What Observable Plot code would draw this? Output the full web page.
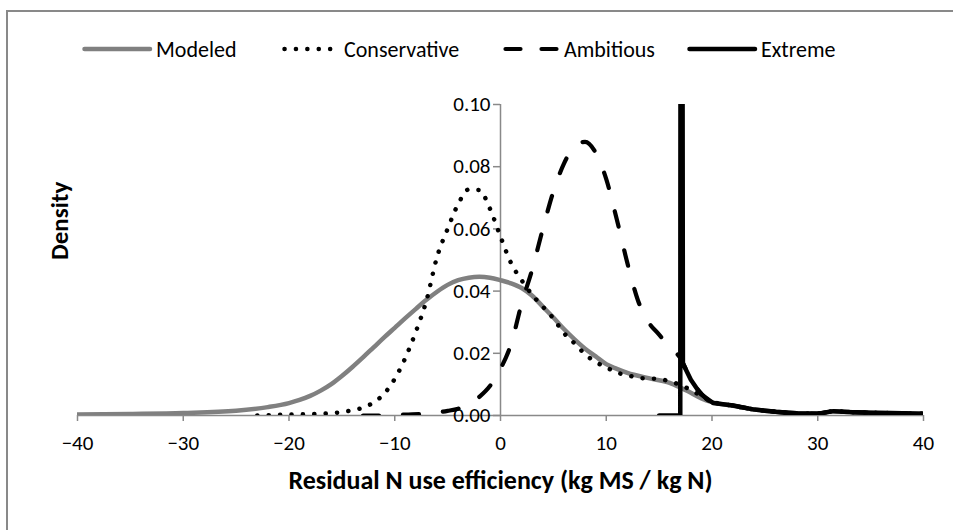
<!DOCTYPE html>
<html>
<head>
<meta charset="utf-8">
<script src="https://cdn.jsdelivr.net/npm/d3@7"></script>
<script src="https://cdn.jsdelivr.net/npm/@observablehq/plot@0.6"></script>
<style>
  html, body { margin: 0; padding: 0; background: #fff; }
  #wrap { position: relative; width: 953px; height: 530px; overflow: hidden; font-family: Carlito, Calibri, Lato, sans-serif; }
  #frame { position: absolute; left: 6px; top: 10px; width: 1000px; height: 600px; border-left: 2px solid #898989; border-top: 2px solid #898989; box-sizing: border-box; pointer-events: none; }
  #legend { position: relative; height: 70px; }
  .item { position: absolute; top: 37px; height: 24px; display: flex; align-items: center; font-size: 22px; color: #000; white-space: nowrap; }
  .item svg { margin-right: 2px; }
  #chart { position: absolute; left: 0; top: 70px; }
</style>
</head>
<body>
<div id="wrap">
  <div id="legend"></div>
  <div id="chart"></div>
  <div id="frame"></div>
</div>
<script>
// ---- data ----
const seriesNames = ["Modeled", "Conservative", "Ambitious", "Extreme"];

const modeledX = [-40,-35,-30,-25,-22,-20,-19,-18,-17,-16,-15,-14,-13,-12,-11,-10,-9,-8,-7,-6,-5,-4,-3,-2,-1,0,1,2,3,4,5,6,7,8,9,10,11,12,14,16,17,18,19,20,22,24,26,28,30,31.5,33,35,38,40];
const modeledY = [0.0003,0.0005,0.0008,0.0015,0.0027,0.004,0.005,0.0063,0.008,0.0101,0.0127,0.0156,0.0187,0.0219,0.0251,0.0282,0.0313,0.0343,0.0372,0.0398,0.042,0.0435,0.0443,0.0446,0.0443,0.0435,0.0425,0.041,0.0385,0.035,0.0315,0.0278,0.0245,0.0215,0.019,0.0165,0.015,0.0137,0.012,0.0105,0.009,0.0073,0.0055,0.0043,0.0031,0.0019,0.0012,0.0007,0.0006,0.0014,0.0011,0.0009,0.0007,0.0006];

const conservativeX = [-23,-20,-17,-15,-14,-13,-12,-11,-10,-9,-8,-7,-6,-5,-4,-3,-2,-1,0,1,2,3,4,5,6,7,8,9,10,11,12,13,14,15,16,17,18,19,20,22,24,26,28,30,31.5,33,35,38,40];
const conservativeY = [0,0.0003,0.0006,0.0011,0.0017,0.0025,0.0042,0.007,0.0118,0.0185,0.027,0.037,0.051,0.06,0.068,0.0727,0.0725,0.0665,0.0575,0.049,0.0435,0.0388,0.035,0.0312,0.0265,0.0232,0.0197,0.0172,0.0155,0.0138,0.013,0.0121,0.0119,0.0117,0.011,0.0098,0.0082,0.0062,0.0045,0.0031,0.0019,0.0012,0.0007,0.0006,0.0014,0.0011,0.0009,0.0007,0.0006];

const ambitiousX = [-13,-11,-9,-7,-5,-4,-3,-2,-1,0,1,2,3,4,5,6,7,8,9,10,11,12,13,14,15,16,17,18,19,20,22,24,26,28,30,31.5,33,35,38,40];
const ambitiousY = [0,0,0.0003,0.0006,0.0015,0.0022,0.0035,0.006,0.0095,0.015,0.023,0.036,0.047,0.06,0.072,0.081,0.0865,0.088,0.0845,0.076,0.063,0.049,0.037,0.03,0.026,0.022,0.0185,0.0115,0.007,0.0042,0.0032,0.0019,0.0012,0.0007,0.0006,0.0014,0.0011,0.0009,0.0007,0.0006];

const extremeX = [15,17,17.08,17.25,18,18.9,20.1,22,24,26,28,30,31.5,33,35,38,40];
const extremeY = [0,0,0.5,0.0167,0.0115,0.007,0.004,0.0032,0.0019,0.0012,0.0007,0.0006,0.0014,0.0011,0.0009,0.0007,0.0006];

const xTicks = [-40,-30,-20,-10,0,10,20,30,40];
const yTicks = [0,0.02,0.04,0.06,0.08,0.10];
const xTitle = "Residual N use efficiency (kg MS / kg N)";
const yTitle = "Density";

// ---- styles ----
const styles = {
  Modeled:      {stroke: "#808080", strokeWidth: 4.5, dash: null, swatch: 70},
  Conservative: {stroke: "#000", strokeWidth: 4.5, dash: "0.1,11.3", swatch: 58},
  Ambitious:    {stroke: "#000", strokeWidth: 4.2, dash: "16,24", swatch: 57},
  Extreme:      {stroke: "#000", strokeWidth: 4.5, dash: null, swatch: 70}
};

const toRows = (xs, ys, s) => xs.map((x, i) => ({x, y: ys[i], series: s}));
const modeled = toRows(modeledX, modeledY, "Modeled");
const conservative = toRows(conservativeX, conservativeY, "Conservative");
const ambitious = toRows(ambitiousX, ambitiousY, "Ambitious");
const extreme = toRows(extremeX, extremeY, "Extreme");

const W = 953, H = 460;
const mL = 77, mR = 30, mT = 34, mB = 115;
const xDomain = [-40, 40];
const zeroOffset = (0 - xDomain[0]) / (xDomain[1] - xDomain[0]) * (W - mL - mR);

const font = "Carlito, Calibri, Lato, sans-serif";
const lineMark = (data, name, curve) => {
  const st = styles[name];
  return Plot.line(data, {x: "x", y: "y", stroke: st.stroke, strokeWidth: st.strokeWidth,
    strokeDasharray: st.dash, strokeLinecap: "round", strokeLinejoin: "round", curve, clip: true});
};

const plot = Plot.plot({
  width: W, height: H,
  marginLeft: mL, marginRight: mR, marginTop: mT, marginBottom: mB,
  style: {fontFamily: font, fontSize: "21px", color: "#000", background: "transparent", overflow: "visible"},
  x: {domain: xDomain},
  y: {domain: [0, 0.10]},
  marks: [
    Plot.ruleY([0], {stroke: "#898989", strokeWidth: 1.5}),
    Plot.ruleX([0], {y1: 0, y2: 0.10, stroke: "#898989", strokeWidth: 1.5}),
    Plot.axisX({ticks: xTicks, tickSize: 6, tickPadding: 14, stroke: "#898989", strokeWidth: 1.5, fill: "#000", label: null, fontSize: 21}),
    Plot.axisY({ticks: yTicks, anchor: "left", dx: zeroOffset, tickSize: 7, tickPadding: 3, stroke: "#898989", strokeWidth: 1.5, fill: "#000", label: null, fontSize: 21, tickFormat: d3.format(".2f")}),
    lineMark(modeled, "Modeled", "monotone-x"),
    lineMark(conservative, "Conservative", "monotone-x"),
    lineMark(ambitious, "Ambitious", "monotone-x"),
    lineMark(extreme, "Extreme", "linear"),
    Plot.text([yTitle], {frameAnchor: "left", rotate: -90, dx: -18, fontWeight: "bold", fontSize: 25, fill: "#000"}),
    Plot.text([xTitle], {frameAnchor: "bottom", dy: 73, fontWeight: "bold", fontSize: 26, fill: "#000"})
  ]
});
document.getElementById("chart").appendChild(plot);

// ---- legend ----
const legendPos = {Modeled: 82, Conservative: 282, Ambitious: 503, Extreme: 687};
const legend = document.getElementById("legend");
for (const name of seriesNames) {
  const st = styles[name];
  const item = document.createElement("div");
  item.className = "item";
  item.style.left = legendPos[name] + "px";
  const sw = st.swatch;
  const svg = d3.create("svg").attr("width", sw + 2).attr("height", 12);
  svg.append("line").attr("x1", 2.5).attr("x2", sw - 2).attr("y1", 6).attr("y2", 6)
    .attr("stroke", st.stroke).attr("stroke-width", st.strokeWidth)
    .attr("stroke-linecap", "round")
    .attr("stroke-dasharray", name === "Ambitious" ? "15,21" : st.dash);
  item.appendChild(svg.node());
  const label = document.createElement("span");
  label.textContent = name;
  item.appendChild(label);
  legend.appendChild(item);
}
</script>
</body>
</html>
